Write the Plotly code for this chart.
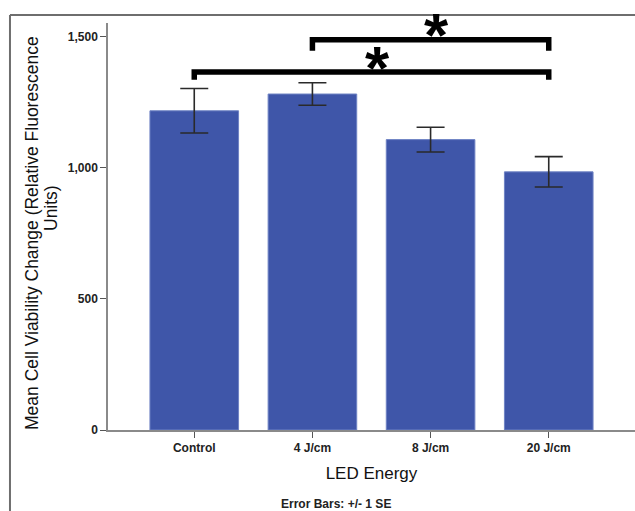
import plotly.graph_objects as go

categories = ["Control", "4 J/cm", "8 J/cm", "20 J/cm"]
means = [1218, 1282, 1108, 985]
se = [85, 43, 47, 58]
y_ticks = [0, 500, 1000, 1500]
y_tick_labels = ["0", "500", "1,000", "1,500"]
# significance brackets: (start category index, end category index, bar level, leg-end level)
brackets = [(0, 3, 1366, 1336), (1, 3, 1489, 1447)]
y_title_lines = ["Mean Cell Viability Change (Relative Fluorescence", "Units)"]

BAR = "#3f56a9"
fig = go.Figure()
fig.add_trace(go.Bar(
    x=list(range(len(categories))), y=means, width=0.75,
    marker=dict(color=BAR, line=dict(color="#6f83c4", width=1)),
    error_y=dict(type="data", array=se, visible=True, color="#2a2a2a", thickness=1.6, width=14),
))

for (a, b, lvl, end) in brackets:
    path = (f"M {a} {end} L {a} {lvl} L {b} {lvl} L {b} {end}")
    fig.add_shape(type="path", path=path, xref="x", yref="y",
                  line=dict(color="black", width=5.5), layer="above")
    fig.add_annotation(x=(a + b) / 2, y=lvl, text="<b>*</b>", showarrow=False,
                       xref="x", yref="y", yanchor="middle", yshift=5, xshift=6,
                       font=dict(family="Liberation Sans, Arial", size=62, color="black"))

# outer frame
fig.add_shape(type="line", xref="paper", yref="paper", x0=-0.186, x1=-0.186, y0=-0.3, y1=1.0197,
              line=dict(color="#6e6e6e", width=2))
fig.add_shape(type="line", xref="paper", yref="paper", x0=-0.186, x1=1.1, y0=1.0197, y1=1.0197,
              line=dict(color="#6e6e6e", width=2))

# y-axis title (two rotated lines)
title_font = dict(family="Liberation Sans, Arial", size=17.5, color="#111")
fig.add_annotation(xref="paper", yref="paper", x=(32 - 108) / 527, y=(430 - 233) / 407,
                   text=y_title_lines[0], textangle=-90, showarrow=False,
                   xanchor="center", yanchor="middle", font=title_font)
fig.add_annotation(xref="paper", yref="paper", x=(51 - 108) / 527, y=(430 - 208) / 407,
                   text=y_title_lines[1], textangle=-90, showarrow=False,
                   xanchor="center", yanchor="middle", font=title_font)

fig.add_annotation(xref="paper", yref="paper", x=0.433, y=-0.205, text="<b>Error Bars: +/- 1 SE</b>",
                   showarrow=False, xanchor="center",
                   font=dict(family="Liberation Sans Narrow, Arial Narrow, Liberation Sans", size=12, color="#222"))

tickfont = dict(family="Liberation Sans Narrow, Arial Narrow, Liberation Sans", size=12, color="#222")
fig.update_layout(
    width=635, height=511,
    margin=dict(l=108, r=0, t=23, b=81),
    paper_bgcolor="white", plot_bgcolor="white",
    showlegend=False,
    xaxis=dict(range=[-0.73, 3.73], tickmode="array", tickvals=list(range(len(categories))),
               ticktext=[f"<b>{c}</b>" for c in categories], tickfont=tickfont,
               showline=True, linecolor="#8a8a8a", linewidth=1.5, ticks="outside", ticklen=6,
               tickcolor="#555", showgrid=False, zeroline=False,
               title=dict(text="LED Energy", font=dict(family="Liberation Sans, Arial", size=17, color="#111"),
                          standoff=13)),
    yaxis=dict(range=[0, 1553], tickmode="array", tickvals=y_ticks,
               ticktext=[f"<b>{t}</b>" for t in y_tick_labels], tickfont=tickfont,
               showline=True, linecolor="#8a8a8a", linewidth=1.5, ticks="outside", ticklen=6,
               tickcolor="#555", showgrid=False, zeroline=False),
)

fig.write_html("out.html")
